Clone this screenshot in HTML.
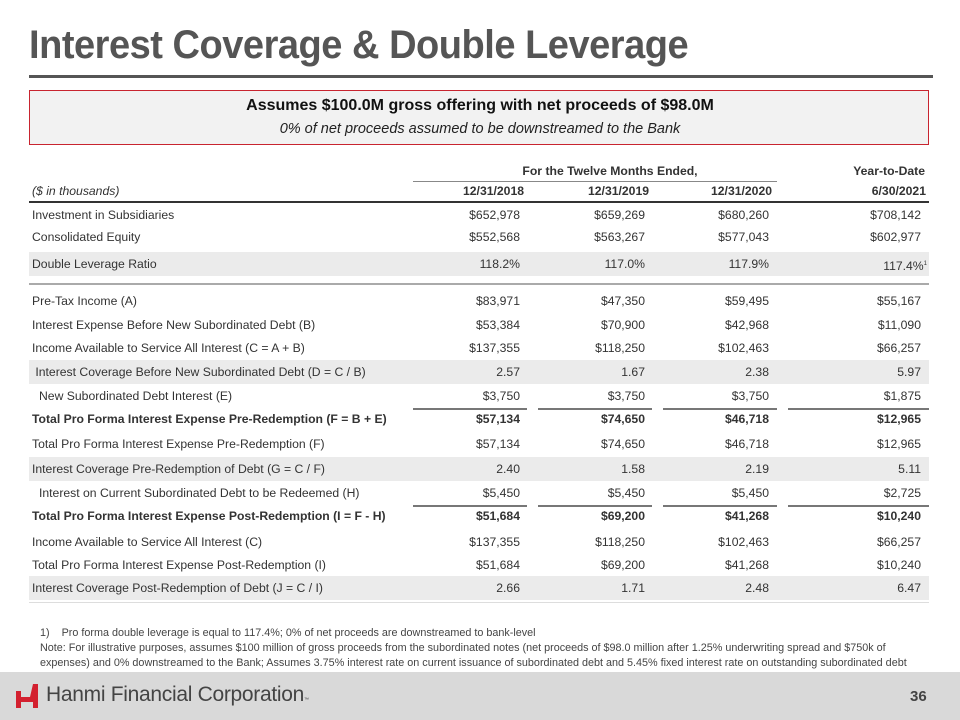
<!DOCTYPE html>
<html><head><meta charset="utf-8"><style>
*{margin:0;padding:0;box-sizing:border-box}
body{width:960px;height:720px;position:relative;background:#fff;font-family:"Liberation Sans",Arial,sans-serif;color:#333;overflow:hidden}
.a{position:absolute;white-space:nowrap}
.t{left:29px;top:23px;font-size:40px;font-weight:bold;color:#555;letter-spacing:-0.5px;transform:scaleX(0.95);transform-origin:left}
.row{position:absolute;left:29px;width:900px;height:22px;font-size:12.2px;line-height:22px}
.row span{position:absolute;top:0}
.l{left:3px}.l2{left:10px}
.c1{right:409px}.c2{right:284px}.c3{right:160px}.c4{right:8px}
.sh{background:#ebebeb}
.b{font-weight:bold}
.ul{position:absolute;height:1.5px;background:#777}
</style></head><body>
<div class="a t">Interest Coverage &amp; Double Leverage</div>
<div class="a" style="left:29px;top:75px;width:904px;height:3px;background:#555"></div>
<div class="a" style="left:29px;top:90px;width:900px;height:55px;background:#f2f2f2;border:1px solid #c8242f"></div>
<div class="a" style="left:0;width:960px;top:97px;text-align:center;font-size:16px;font-weight:bold;color:#111">Assumes $100.0M gross offering with net proceeds of $98.0M</div>
<div class="a" style="left:0;width:960px;top:121px;text-align:center;font-size:14.5px;font-style:italic;color:#222">0% of net proceeds assumed to be downstreamed to the Bank</div>

<div class="row b" style="top:160px"><span style="left:384px;width:394px;text-align:center">For the Twelve Months Ended,</span><span class="c4" style="right:4px">Year-to-Date</span></div>
<div class="ul" style="left:413px;top:181px;width:364px;height:1px;background:#888"></div>
<div class="row b" style="top:180px"><span class="l" style="font-weight:normal;font-style:italic">($ in thousands)</span><span style="right:405px">12/31/2018</span><span style="right:280px">12/31/2019</span><span style="right:157px">12/31/2020</span><span style="right:3px">6/30/2021</span></div>
<div class="a" style="left:29px;top:201px;width:900px;height:2px;background:#333"></div>

<div class="row" style="top:204px"><span class="l">Investment in Subsidiaries</span><span class="c1">$652,978</span><span class="c2">$659,269</span><span class="c3">$680,260</span><span class="c4">$708,142</span></div>
<div class="row" style="top:226px"><span class="l">Consolidated Equity</span><span class="c1">$552,568</span><span class="c2">$563,267</span><span class="c3">$577,043</span><span class="c4">$602,977</span></div>
<div class="row sh" style="top:252px;height:24px;line-height:24px"><span class="l">Double Leverage Ratio</span><span class="c1">118.2%</span><span class="c2">117.0%</span><span class="c3">117.9%</span><span class="c4" style="right:2px">117.4%<sup style="font-size:6px">1</sup></span></div>
<div class="a" style="left:29px;top:283px;width:900px;height:2px;background:#aaa"></div>

<div class="row" style="top:290px"><span class="l">Pre-Tax Income (A)</span><span class="c1">$83,971</span><span class="c2">$47,350</span><span class="c3">$59,495</span><span class="c4">$55,167</span></div>
<div class="row" style="top:314px"><span class="l">Interest Expense Before New Subordinated Debt (B)</span><span class="c1">$53,384</span><span class="c2">$70,900</span><span class="c3">$42,968</span><span class="c4">$11,090</span></div>
<div class="row" style="top:337px"><span class="l">Income Available to Service All Interest (C = A + B)</span><span class="c1">$137,355</span><span class="c2">$118,250</span><span class="c3">$102,463</span><span class="c4">$66,257</span></div>
<div class="row sh" style="top:360px;height:24px;line-height:24px"><span class="l">&nbsp;Interest Coverage Before New Subordinated Debt (D = C / B)</span><span class="c1">2.57</span><span class="c2">1.67</span><span class="c3">2.38</span><span class="c4">5.97</span></div>
<div class="row" style="top:385px"><span class="l2">New Subordinated Debt Interest (E)</span><span class="c1">$3,750</span><span class="c2">$3,750</span><span class="c3">$3,750</span><span class="c4">$1,875</span></div>
<div class="ul" style="left:413px;top:408px;width:114px"></div><div class="ul" style="left:538px;top:408px;width:114px"></div><div class="ul" style="left:663px;top:408px;width:114px"></div><div class="ul" style="left:788px;top:408px;width:141px"></div>
<div class="row b" style="top:408px"><span class="l">Total Pro Forma Interest Expense Pre-Redemption (F = B + E)</span><span class="c1">$57,134</span><span class="c2">$74,650</span><span class="c3">$46,718</span><span class="c4">$12,965</span></div>
<div class="row" style="top:433px"><span class="l">Total Pro Forma Interest Expense Pre-Redemption (F)</span><span class="c1">$57,134</span><span class="c2">$74,650</span><span class="c3">$46,718</span><span class="c4">$12,965</span></div>
<div class="row sh" style="top:457px;height:24px;line-height:24px"><span class="l">Interest Coverage Pre-Redemption of Debt (G = C / F)</span><span class="c1">2.40</span><span class="c2">1.58</span><span class="c3">2.19</span><span class="c4">5.11</span></div>
<div class="row" style="top:482px"><span class="l2">Interest on Current Subordinated Debt to be Redeemed (H)</span><span class="c1">$5,450</span><span class="c2">$5,450</span><span class="c3">$5,450</span><span class="c4">$2,725</span></div>
<div class="ul" style="left:413px;top:505px;width:114px"></div><div class="ul" style="left:538px;top:505px;width:114px"></div><div class="ul" style="left:663px;top:505px;width:114px"></div><div class="ul" style="left:788px;top:505px;width:141px"></div>
<div class="row b" style="top:505px"><span class="l">Total Pro Forma Interest Expense Post-Redemption (I = F - H)</span><span class="c1">$51,684</span><span class="c2">$69,200</span><span class="c3">$41,268</span><span class="c4">$10,240</span></div>
<div class="row" style="top:531px"><span class="l">Income Available to Service All Interest (C)</span><span class="c1">$137,355</span><span class="c2">$118,250</span><span class="c3">$102,463</span><span class="c4">$66,257</span></div>
<div class="row" style="top:554px"><span class="l">Total Pro Forma Interest Expense Post-Redemption (I)</span><span class="c1">$51,684</span><span class="c2">$69,200</span><span class="c3">$41,268</span><span class="c4">$10,240</span></div>
<div class="row sh" style="top:576px;height:24px;line-height:24px"><span class="l">Interest Coverage Post-Redemption of Debt (J = C / I)</span><span class="c1">2.66</span><span class="c2">1.71</span><span class="c3">2.48</span><span class="c4">6.47</span></div>
<div class="a" style="left:29px;top:602px;width:900px;height:1px;background:#ddd"></div>

<div class="a" style="left:40px;top:627px;font-size:10.8px;color:#444">1)&nbsp;&nbsp;&nbsp;&nbsp;Pro forma double leverage is equal to 117.4%; 0% of net proceeds are downstreamed to bank-level</div>
<div class="a" style="left:40px;top:641px;font-size:10.8px;color:#444;line-height:15px">Note: For illustrative purposes, assumes $100 million of gross proceeds from the subordinated notes (net proceeds of $98.0 million after 1.25% underwriting spread and $750k of<br>expenses) and 0% downstreamed to the Bank; Assumes 3.75% interest rate on current issuance of subordinated debt and 5.45% fixed interest rate on outstanding subordinated debt</div>

<div class="a" style="left:0;top:672px;width:960px;height:48px;background:#d9d9d9"></div>
<svg class="a" style="left:15px;top:683px" width="28" height="26" viewBox="0 0 28 26"><path d="M1 8h5v6h9l3-13h5v24h-5v-6h-12v6h-5z" fill="#d3202f"/></svg>
<div class="a" style="left:46px;top:683px;font-size:21px;color:#444;letter-spacing:-0.3px">Hanmi Financial Corporation<span style="font-size:5px">™</span></div>
<div class="a" style="left:910px;top:688px;font-size:15px;font-weight:bold;color:#444">36</div>
</body></html>
